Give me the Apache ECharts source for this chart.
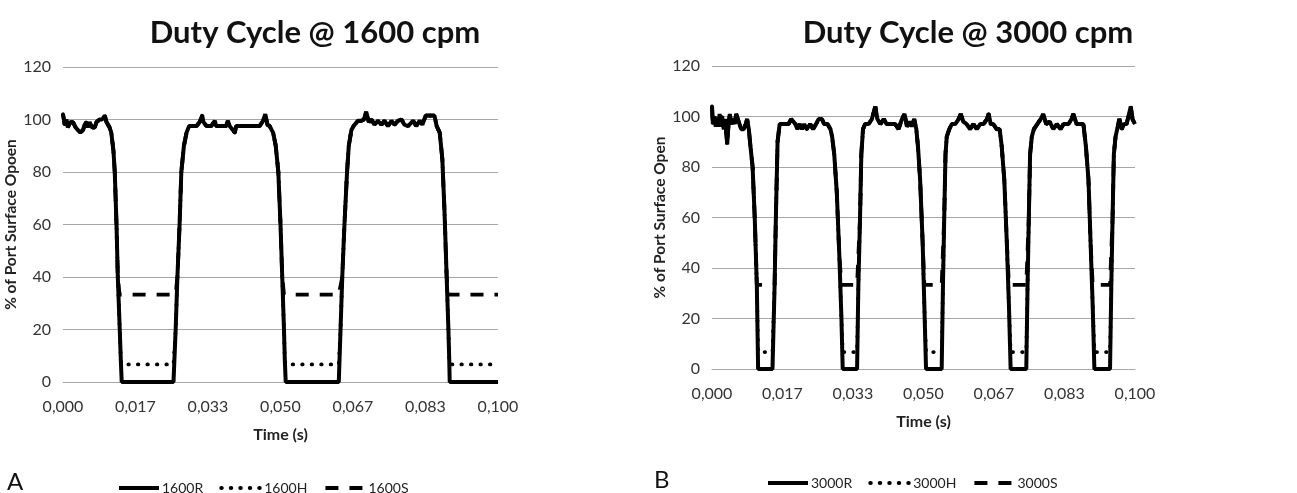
<!DOCTYPE html>
<html><head><meta charset="utf-8">
<script src="https://cdn.jsdelivr.net/npm/echarts@6/dist/echarts.min.js"></script>
<style>html,body{margin:0;padding:0;background:#fff}#c{width:1297px;height:493px}</style>
</head><body><div id="c"></div>
<script>
// ---------- Chart A: 1600 cpm ----------
var t1600 = [0,0.0004,0.0008,0.0011,0.0017,0.0023,0.0029,0.0034,0.0040,0.0046,0.0050,0.0054,0.0057,0.0061,0.0067,0.0073,0.0077,0.0084,0.0090,0.0096,0.0100,0.0107,0.0111,0.0116,0.0119,0.0123,0.0126,0.0130,0.0133,0.0135,
0.0254,0.0259,0.0263,0.0268,0.0272,0.0278,0.0284,0.0290,0.0299,0.0307,0.0314,0.0320,0.0323,0.0330,0.0341,0.0349,0.0352,0.0364,0.0375,0.0379,0.0383,0.0395,0.0398,0.0414,0.0437,0.0452,0.0460,0.0465,0.0470,0.0475,0.0483,0.0489,0.0495,0.0500,0.0504,0.0508,0.0510,0.0512,
0.0634,0.0638,0.0642,0.0647,0.0653,0.0657,0.0663,0.0668,0.0678,0.0686,0.0692,0.0697,0.0703,0.0709,0.0716,0.0724,0.0732,0.0739,0.0747,0.0755,0.0762,0.0770,0.0778,0.0785,0.0793,0.0805,0.0812,0.0820,0.0826,0.0834,0.0843,0.0854,0.0859,0.0866,0.0872,0.0877,0.0882,0.0886,0.0888,0.0889,0.1000];
var r1600 = [102,98,100,97,99,99,97,96,95,96,98,99,97,99,97,97,99,100,100,101.5,99,97,95,88,80,60,40,22,8,0,
0,20,40,60,80,90,95,97.5,97.5,97.5,99,101.5,99,97.5,97.5,99.5,97.5,97.5,97.5,99.5,97.5,95,97.5,97.5,97.5,97.5,99.5,102,98,97.5,95,90,80,60,40,20,8,0,
0,20,40,60,80,90,96,97.5,99.5,99.5,100,103,99,100,98,99.5,98,99.5,97.5,99.5,98,99.5,100,98,97.5,99.5,97.5,99.5,98,101.5,101.5,101.5,97.5,95,85,65,40,20,8,0,0];
var h1600 = [102,98,100,97,99,99,97,96,95,96,98,99,97,99,97,97,99,100,100,101.5,99,97,95,88,80,60,40,22,8,6.7,
6.7,20,40,60,80,90,95,97.5,97.5,97.5,99,101.5,99,97.5,97.5,99.5,97.5,97.5,97.5,99.5,97.5,95,97.5,97.5,97.5,97.5,99.5,102,98,97.5,95,90,80,60,40,20,8,6.7,
6.7,20,40,60,80,90,96,97.5,99.5,99.5,100,103,99,100,98,99.5,98,99.5,97.5,99.5,98,99.5,100,98,97.5,99.5,97.5,99.5,98,101.5,101.5,101.5,97.5,95,85,65,40,20,8,6.7,6.7];
var s1600 = [102,98,100,97,99,99,97,96,95,96,98,99,97,99,97,97,99,100,100,101.5,99,97,95,88,80,60,40,33.3,33.3,33.3,
33.3,33.3,40,60,80,90,95,97.5,97.5,97.5,99,101.5,99,97.5,97.5,99.5,97.5,97.5,97.5,99.5,97.5,95,97.5,97.5,97.5,97.5,99.5,102,98,97.5,95,90,80,60,40,33.3,33.3,33.3,
33.3,33.3,40,60,80,90,96,97.5,99.5,99.5,100,103,99,100,98,99.5,98,99.5,97.5,99.5,98,99.5,100,98,97.5,99.5,97.5,99.5,98,101.5,101.5,101.5,97.5,95,85,65,40,33.3,33.3,33.3,33.3];

// ---------- Chart B: 3000 cpm ----------
var t3000 = [0,0.0002,0.0006,0.0009,0.0012,0.0015,0.0018,0.0021,0.0024,0.0028,0.0031,0.0034,0.0036,0.0039,0.0042,0.0046,0.0050,0.0054,0.0057,0.0061,0.0065,0.0069,0.0075,0.0080,0.0083,0.0087,0.0091,0.0096,0.0101,0.0106,0.0109,
0.0143,0.0148,0.0151,0.0155,0.0160,0.0169,0.0181,0.0187,0.0191,0.0197,0.0202,0.0207,0.0213,0.0218,0.0224,0.0232,0.0239,0.0246,0.0252,0.0260,0.0265,0.0273,0.0280,0.0284,0.0289,0.0295,0.0301,0.0306,0.0309,
0.0343,0.0346,0.0350,0.0353,0.0357,0.0362,0.0370,0.0378,0.0386,0.0391,0.0398,0.0406,0.0413,0.0423,0.0433,0.0441,0.0449,0.0455,0.0461,0.0467,0.0472,0.0478,0.0483,0.0487,0.0492,0.0498,0.0502,0.0506,
0.0543,0.0546,0.0549,0.0552,0.0555,0.0561,0.0567,0.0575,0.0583,0.0588,0.0594,0.0602,0.0610,0.0618,0.0626,0.0634,0.0642,0.0650,0.0654,0.0659,0.0665,0.0673,0.0680,0.0685,0.0691,0.0697,0.0702,0.0706,
0.0743,0.0746,0.0749,0.0752,0.0756,0.0761,0.0769,0.0777,0.0783,0.0790,0.0798,0.0807,0.0815,0.0824,0.0831,0.0843,0.0850,0.0854,0.0862,0.0870,0.0878,0.0884,0.0890,0.0895,0.0900,0.0904,
0.0941,0.0944,0.0947,0.0950,0.0954,0.0958,0.0963,0.0969,0.0974,0.0980,0.0986,0.0990,0.0994,0.0998,0.1000];
var r3000 = [104,97,100,96,99,96,101,96,100,95,99,93,89,97,101,97,99,97,101,101,97,95,95,97,99,95,88,80,60,33,0,
0,33,60,90,97,97,97,99,99,97,95,97,95,97,95,97,95,97,99,99,97,97,95,92,85,70,45,20,0,
0,33,60,85,95,97,97,99,104,99,97,99,97,97,97,95,99,101,96,98,96,99,95,88,75,50,25,0,
0,33,60,85,92,95,97,97,99,101,98,97,95,97,95,97,97,99,101,97,97,95,95,88,75,50,25,0,
0,33,60,85,92,95,97,99,101,97,98,95,97,95,97,97,99,101,97,97,97,88,75,50,25,0,
0,33,60,85,92,95,99,95,97,97,101,104,99,99,97];
var h3000 = [104,97,100,96,99,96,101,96,100,95,99,93,89,97,101,97,99,97,101,101,97,95,95,97,99,95,88,80,60,33,6.7,
6.7,33,60,90,97,97,97,99,99,97,95,97,95,97,95,97,95,97,99,99,97,97,95,92,85,70,45,20,6.7,
6.7,33,60,85,95,97,97,99,104,99,97,99,97,97,97,95,99,101,96,98,96,99,95,88,75,50,25,6.7,
6.7,33,60,85,92,95,97,97,99,101,98,97,95,97,95,97,97,99,101,97,97,95,95,88,75,50,25,6.7,
6.7,33,60,85,92,95,97,99,101,97,98,95,97,95,97,97,99,101,97,97,97,88,75,50,25,6.7,
6.7,33,60,85,92,95,99,95,97,97,101,104,99,99,97];
var s3000 = [104,97,100,96,99,96,101,96,100,95,99,93,89,97,101,97,99,97,101,101,97,95,95,97,99,95,88,80,60,33.3,33.3,
33.3,33.3,60,90,97,97,97,99,99,97,95,97,95,97,95,97,95,97,99,99,97,97,95,92,85,70,45,33.3,33.3,
33.3,33.3,60,85,95,97,97,99,104,99,97,99,97,97,97,95,99,101,96,98,96,99,95,88,75,50,33.3,33.3,
33.3,33.3,60,85,92,95,97,97,99,101,98,97,95,97,95,97,97,99,101,97,97,95,95,88,75,50,33.3,33.3,
33.3,33.3,60,85,92,95,97,99,101,97,98,95,97,95,97,97,99,101,97,97,97,88,75,50,33.3,33.3,
33.3,33.3,60,85,92,95,99,95,97,97,101,104,99,99,97];

var namesA = ['1600R','1600H','1600S'];
var namesB = ['3000R','3000H','3000S'];
var titles = ['Duty Cycle @ 1600 cpm','Duty Cycle @ 3000 cpm'];
var yNames = ['% of Port Surface Opoen','% of Port Surface Open'];
var xName = 'Time (s)';
var panelLetters = ['A','B'];

function pairs(t, v){ return t.map(function(x,i){ return [x, v[i]]; }); }

var FONT = 'Lato';
var grids = [
  {left: 63, top: 67, width: 435, height: 315},
  {left: 712, top: 66, width: 423, height: 303}
];
function xAxisCfg(gi){
  return {type:'value', gridIndex: gi, min:0, max:0.1, interval: 0.1/6,
    name: xName, nameLocation:'middle', nameGap: 45,
    nameTextStyle:{fontFamily:FONT, fontWeight:'bold', fontSize:16, color:'#222'},
    axisLine:{show:true, lineStyle:{color:'#a6a6a6', width:1}},
    axisTick:{show:false}, splitLine:{show:false},
    axisLabel:{fontFamily:FONT, fontSize:16, color:'#333', margin:17,
      formatter:function(v){ return v.toFixed(3).replace('.', ','); }}};
}
function yAxisCfg(gi, nm, gap){
  return {type:'value', gridIndex: gi, min:0, max:120, interval:20,
    name: nm, nameLocation:'middle', nameGap: gap,
    nameTextStyle:{fontFamily:FONT, fontWeight:'bold', fontSize:15.5, color:'#222'},
    axisLine:{show:false}, axisTick:{show:false},
    splitLine:{lineStyle:{color:'#a6a6a6', width:1}},
    axisLabel:{fontFamily:FONT, fontSize:16, color:'#333', margin:12}};
}
function mkSeries(name, gi, t, v, kind){
  var ls = {color:'#000', width:3.5};
  var z = 2;
  if (kind === 'H') { ls.type = [0.5, 9]; ls.cap = 'round'; ls.width = 3.8; }
  if (kind === 'S') { ls.type = [13, 11]; ls.width = 3.8; }
  if (kind === 'R') { ls.width = 4; z = 5; }
  return {name:name, type:'line', xAxisIndex:gi, yAxisIndex:gi, data:pairs(t,v),
    symbol:'none', showSymbol:false, lineStyle:ls, itemStyle:{color:'#000'}, z:z, animation:false};
}
var legendBase = {itemWidth:40, itemHeight:12, itemGap:16, padding:0,
  itemStyle:{opacity:0}, lineStyle:{width:4},
  textStyle:{fontFamily:FONT, fontSize:14, color:'#222', padding:[0,0,0,-2]}};

var option = {
  backgroundColor:'#fff',
  animation:false,
  grid: grids,
  xAxis:[xAxisCfg(0), xAxisCfg(1)],
  yAxis:[yAxisCfg(0, yNames[0], 42), yAxisCfg(1, yNames[1], 44)],
  legend:[
    Object.assign({}, legendBase, {data:namesA, left:117, top:481}),
    Object.assign({}, legendBase, {data:namesB, left:766, top:476})
  ],
  graphic:[
    {type:'text', x:315, y:17, style:{text:titles[0], fontFamily:FONT, fontWeight:'bold', fontSize:31, fill:'#111', textAlign:'center'}},
    {type:'text', x:968, y:17, style:{text:titles[1], fontFamily:FONT, fontWeight:'bold', fontSize:31, fill:'#111', textAlign:'center'}},
    {type:'text', x:7, y:470, style:{text:panelLetters[0], fontFamily:FONT, fontSize:24, fill:'#111'}},
    {type:'text', x:654, y:468, style:{text:panelLetters[1], fontFamily:FONT, fontSize:24, fill:'#111'}}
  ],
  series:[
    mkSeries(namesA[0],0,t1600,r1600,'R'),
    mkSeries(namesA[1],0,t1600,h1600,'H'),
    mkSeries(namesA[2],0,t1600,s1600,'S'),
    mkSeries(namesB[0],1,t3000,r3000,'R'),
    mkSeries(namesB[1],1,t3000,h3000,'H'),
    mkSeries(namesB[2],1,t3000,s3000,'S')
  ]
};
var chart = echarts.init(document.getElementById('c'), null, {renderer:'canvas'});
chart.setOption(option);
</script></body></html>
